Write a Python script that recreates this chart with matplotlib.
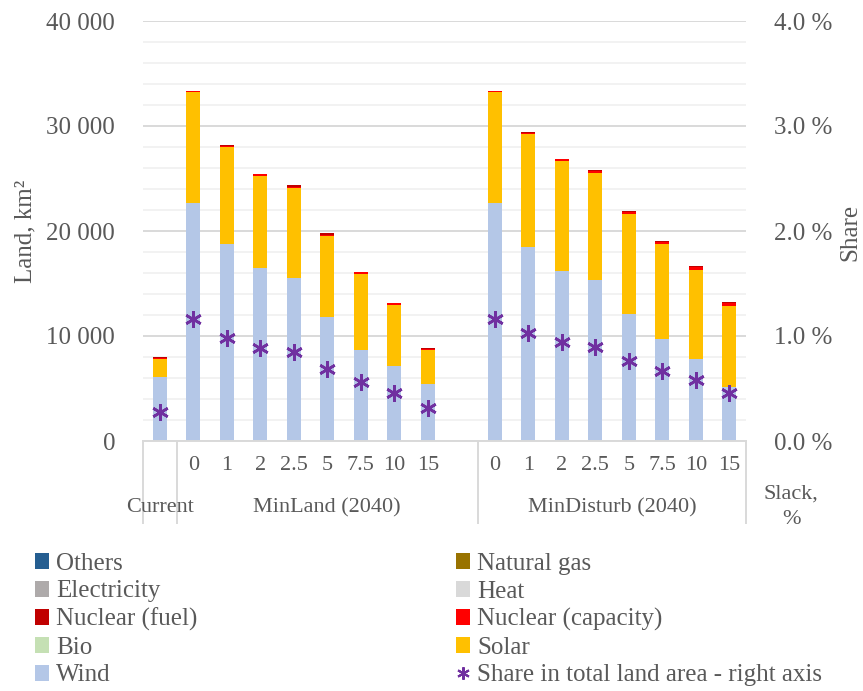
import matplotlib
matplotlib.use("Agg")
import matplotlib.pyplot as plt
from matplotlib.patches import Patch
from matplotlib.lines import Line2D
from matplotlib.ticker import FuncFormatter, MultipleLocator
import numpy as np

plt.rcParams['font.family'] = ['Liberation Serif', 'DejaVu Serif']

# ---- data -------------------------------------------------------------
slack_labels = ['0', '1', '2', '2.5', '5', '7.5', '10', '15']
groups = ['Current', 'MinLand (2040)', 'MinDisturb (2040)']

# land use, km2 (Current, MinLand x8, MinDisturb x8)
wind_current = [6120]
wind_minland = [22650, 18760, 16500, 15520, 11780, 8700, 7175, 5400]
wind_mindist = [22620, 18450, 16220, 15350, 12060, 9714, 7780, 5110]

solar_current = [1690]
solar_minland = [10550, 9240, 8770, 8580, 7720, 7170, 5825, 3235]
solar_mindist = [10580, 10790, 10447, 10200, 9570, 9036, 8535, 7790]

bio_current = [0]
bio_minland = [0, 0, 0, 0, 0, 0, 0, 0]
bio_mindist = [0, 0, 0, 0, 0, 0, 0, 0]

nuccap_current = [120]
nuccap_minland = [100, 100, 120, 100, 130, 180, 100, 100]
nuccap_mindist = [100, 110, 150, 130, 200, 200, 290, 290]

nucfuel_current = [40]
nucfuel_minland = [30, 90, 40, 150, 150, 50, 75, 150]
nucfuel_mindist = [30, 50, 40, 100, 50, 54, 60, 90]

heat_current = [0]
heat_minland = [0, 0, 0, 0, 0, 0, 0, 0]
heat_mindist = [0, 0, 0, 0, 0, 0, 0, 0]

elec_current = [0]
elec_minland = [0, 0, 0, 0, 0, 0, 0, 0]
elec_mindist = [0, 0, 0, 0, 0, 0, 0, 0]

gas_current = [0]
gas_minland = [0, 0, 0, 0, 0, 0, 0, 0]
gas_mindist = [0, 0, 0, 0, 0, 0, 0, 0]

others_current = [0]
others_minland = [0, 0, 0, 0, 0, 0, 0, 0]
others_mindist = [0, 0, 0, 0, 0, 0, 0, 0]

# share of total land area, %
share_current = [0.28]
share_minland = [1.16, 0.985, 0.89, 0.85, 0.69, 0.56, 0.46, 0.31]
share_mindist = [1.165, 1.025, 0.94, 0.90, 0.765, 0.665, 0.58, 0.46]

series_names = ['Wind', 'Solar', 'Bio', 'Nuclear (capacity)', 'Nuclear (fuel)',
                'Heat', 'Electricity', 'Natural gas', 'Others']
series_colors = ['#B4C7E7', '#FFC000', '#C5E0B4', '#FF0000', '#C00000',
                 '#D9D9D9', '#AEAAAA', '#997300', '#255E91']
series_data = [
    (wind_current, wind_minland, wind_mindist),
    (solar_current, solar_minland, solar_mindist),
    (bio_current, bio_minland, bio_mindist),
    (nuccap_current, nuccap_minland, nuccap_mindist),
    (nucfuel_current, nucfuel_minland, nucfuel_mindist),
    (heat_current, heat_minland, heat_mindist),
    (elec_current, elec_minland, elec_mindist),
    (gas_current, gas_minland, gas_mindist),
    (others_current, others_minland, others_mindist),
]

# category positions: Current, 8 MinLand slots, one empty slot, 8 MinDisturb slots
x_current = np.array([0])
x_minland = np.arange(1, 9)
x_mindist = np.arange(10, 18)
xpos = np.concatenate([x_current, x_minland, x_mindist])

TXT = '#595959'

fig = plt.figure(figsize=(8.63, 6.91), dpi=100)
ax = fig.add_axes([143 / 863, 1 - 441 / 691, (746 - 143) / 863, 420 / 691])

bottom = np.zeros(len(xpos))
for name, color, (c, m, d) in zip(series_names, series_colors, series_data):
    vals = np.array(c + m + d, dtype=float)
    ax.bar(xpos, vals, width=0.42, bottom=bottom, color=color,
           edgecolor='none', zorder=2)
    bottom += vals

ax.set_xlim(-0.5, 17.5)
ax.set_ylim(0, 40000)
ax.yaxis.set_major_locator(MultipleLocator(10000))
ax.yaxis.set_minor_locator(MultipleLocator(2000))
ax.yaxis.set_major_formatter(FuncFormatter(lambda v, p: f"{int(v):,}".replace(',', ' ')))
ax.grid(axis='y', which='major', color='#D9D9D9', linewidth=1.4, zorder=0)
ax.grid(axis='y', which='minor', color='#F2F2F2', linewidth=1.4, zorder=0)
ax.set_axisbelow(True)
ax.tick_params(axis='y', which='both', length=0, labelsize=18, labelcolor=TXT, pad=20)
ax.set_xticks([])
for s in ['top', 'right', 'left']:
    ax.spines[s].set_visible(False)
ax.spines['bottom'].set_color('#D9D9D9')
ax.spines['bottom'].set_linewidth(1.4)

# share on the right axis
ax2 = ax.twinx()
share = np.array(share_current + share_minland + share_mindist)
ax2.plot(xpos, share, linestyle='none', marker=(6, 2, 0), markersize=12,
         markeredgewidth=1.9, color='#7030A0', zorder=5)
ax2.set_ylim(0, 4)
ax2.yaxis.set_major_locator(MultipleLocator(1))
ax2.yaxis.set_major_formatter(FuncFormatter(lambda v, p: f"{v:.1f} %"))
ax2.tick_params(axis='y', length=0, labelsize=18, labelcolor=TXT, pad=20)
for s in ['top', 'right', 'left', 'bottom']:
    ax2.spines[s].set_visible(False)

# multi-level category axis
xt = ax.get_xaxis_transform()
for xs in (x_minland, x_mindist):
    for xv, lab in zip(xs, slack_labels):
        ax.text(xv, -25 / 420, lab, transform=xt, ha='center', va='center',
                fontsize=16, color=TXT, clip_on=False)
group_centers = [0, (0.5 + 9.5) / 2, (9.5 + 17.5) / 2]
for gc, g in zip(group_centers, groups):
    ax.text(gc, -67 / 420, g, transform=xt, ha='center', va='center',
            fontsize=16, color=TXT, clip_on=False)
for xv in (-0.5, 0.5, 9.5, 17.5):
    ax.plot([xv, xv], [0, -82 / 420], transform=xt, color='#D9D9D9',
            linewidth=1.4, clip_on=False)
fig.text(791 / 863, 1 - 507 / 691, 'Slack,\n%', ha='center', va='center',
         fontsize=16, color=TXT, linespacing=1.45)

# axis titles
fig.text(25 / 863, 1 - 231 / 691, 'Land, km²', rotation=90, ha='center',
         va='center', fontsize=18, color=TXT)
fig.text(850 / 863, 1 - 232 / 691, 'Share', rotation=90, ha='center',
         va='center', fontsize=18, color=TXT)

# legend in two columns
col_left = ['Others', 'Electricity', 'Nuclear (fuel)', 'Bio', 'Wind']
col_right = ['Natural gas', 'Heat', 'Nuclear (capacity)', 'Solar']
cmap = dict(zip(series_names, series_colors))
h_left = [Patch(facecolor=cmap[n], edgecolor='none') for n in col_left]
h_right = [Patch(facecolor=cmap[n], edgecolor='none') for n in col_right]
h_right.append(Line2D([], [], linestyle='none', marker=(6, 2, 0), markersize=9,
                      markeredgewidth=1.5, color='#7030A0'))
lab_right = col_right + ['Share in total land area - right axis']

common = dict(frameon=False, fontsize=18, handlelength=0.55, handleheight=0.6,
              handletextpad=0.3, labelspacing=0.22, borderpad=0, borderaxespad=0,
              labelcolor=TXT)
leg1 = fig.legend(h_left, col_left, loc='upper left',
                  bbox_to_anchor=(35 / 863, 1 - 553 / 691), **common)
leg2 = fig.legend(h_right, lab_right, loc='upper left',
                  bbox_to_anchor=(456 / 863, 1 - 553 / 691), **common)

fig.savefig('out.png', dpi=100, facecolor='white')
